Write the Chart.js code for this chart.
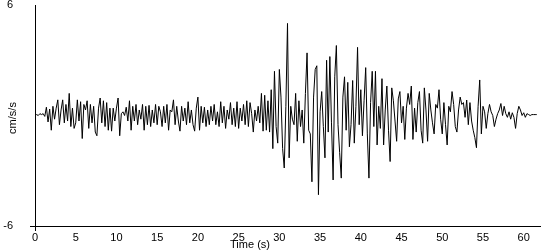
<!DOCTYPE html>
<html>
<head>
<meta charset="utf-8">
<script src="https://cdn.jsdelivr.net/npm/chart.js@4"></script>
<style>
  body { margin: 0; background: #fff; }
  #wrap { width: 550px; height: 250px; }
</style>
</head>
<body>
<div id="wrap"><canvas id="seismo" width="550" height="250"></canvas></div>
<script>
// ground acceleration (cm/s/s), every 0.2 s
const sampleStep = 0.2;
const accel = [
    0.0, 0.05, 0.0, 0.1, 0.05,
    0.1, -0.05, 0.45, -0.35, 0.35,
    -0.8, 0.5, -0.2, 0.4, 0.85,
    -0.5, 0.3, 0.85, -0.4, 0.6,
    -0.3, 1.2, -0.6, 0.4, -0.7,
    -0.4, 0.85, -0.3, 0.75, -1.25,
    0.6, 0.3, 0.8, -0.7, 0.6,
    -0.4, 0.5, -0.9, -1.1, 0.4,
    0.95, -0.4, 0.8, -0.6, 0.7,
    -0.8, 0.4, -0.85, 0.4, -0.3,
    0.4, 0.95, -1.1, 0.1, 0.2,
    0.0, 0.45, -0.3, 0.8, -0.8,
    0.5, -0.3, 0.6, -0.5, 0.3,
    -0.2, 0.6, -0.8, 0.5, -0.5,
    0.55, -0.6, 0.3, -0.4, 0.6,
    -0.5, 0.5, 0.2, -0.6, 0.5,
    -0.4, 0.6, -0.8, 0.3, 0.2,
    0.85, -0.5, 0.5, -0.3, -0.85,
    0.5, -0.3, 0.4, -0.5, 0.75,
    -0.4, 0.3, -0.5, -0.85, 0.4,
    1.0, -0.8, 0.5, -0.4, 0.45,
    -0.6, 0.3, -0.5, 0.5, -0.3,
    0.6, -0.5, 0.2, -0.6, 0.75,
    -0.4, 0.5, -0.7, 0.3, -0.2,
    0.7, -0.5, 0.4, -0.6, 0.75,
    -0.7, 0.4, -0.3, 0.6, -0.5,
    0.8, -0.6, 0.7, 0.1, -0.9,
    0.3, -0.3, 0.5, -0.4, 1.2,
    -0.85, 1.1, -0.8, 0.8, -0.9,
    1.4, -1.8, 2.4, -0.6, -1.5,
    2.5, 1.0, -1.8, -2.85, 0.5,
    5.0, -2.3, 0.5, -0.2, -0.5,
    1.2, -1.4, 0.8, -0.6, 0.3,
    -1.5, 1.2, 3.4, -0.8, -1.0,
    -3.6, 1.0, 2.5, 2.7, -4.3,
    0.2, 1.3, -0.6, -2.3, 3.0,
    -0.9, 3.2, -0.4, -3.5, 2.1,
    3.8, -0.5, -2.0, -3.4, 1.0,
    2.1, -0.8, 1.8, -1.7, -0.5,
    1.9, -1.5, 0.5, 3.7, -0.5,
    1.4, -1.1, 0.8, 2.6, -1.0,
    -3.4, 0.7, 2.4, -0.6, 2.4,
    -1.6, 0.5, -0.7, 2.0, -1.6,
    0.3, 1.6, -0.8, -2.5, 1.5,
    0.8, -0.3, -1.4, 0.9, 1.3,
    -0.4, 0.5, -1.3, 0.4, 1.2,
    0.6, 1.6, -1.3, 0.4, -0.9,
    0.7, 1.3, -0.8, -1.5, 1.5,
    0.3, -1.4, 1.2, 0.3, -0.4,
    -1.0, 0.6, 0.4, 1.4, -0.2,
    -1.0, 0.7, -0.5, -1.6, 0.5,
    0.2, 1.3, 0.6, -0.6, -0.9,
    0.3, 1.0, 0.6, 0.7, -0.1,
    0.84, -0.5, 0.7, -0.3, -0.8,
    -1.2, -1.75, 0.5, 1.93, -1.0,
    0.5, 0.2, -0.7, 0.1, 0.6,
    0.2, 0.0, -0.6, -0.2, 0.1,
    0.3, 0.65, 0.0, 0.5, 0.1,
    -0.1, 0.2, -0.2, 0.15, -0.1,
    -0.7, 0.1, 0.5, 0.3, 0.0,
    0.15, -0.1, 0.1, 0.05, 0.0,
    0.05, 0.05, 0.05, 0.05
];

const xTicks = [0, 5, 10, 15, 20, 25, 30, 35, 40, 45, 50, 55, 60];
const yTicks = [-6, 6];
const xTitle = "Time (s)";
const yTitle = "cm/s/s";

const points = accel.map((v, i) => ({ x: Math.round(i * sampleStep * 10) / 10, y: v }));

const labelFont = { family: '"Liberation Sans", Arial, sans-serif', size: 11 };

// axis titles sit in odd places in the original, so they are drawn by hand
const axisTitles = {
    id: 'axisTitles',
    afterDraw(chart) {
        const ctx = chart.ctx;
        ctx.save();
        ctx.fillStyle = '#000';
        ctx.font = '11px "Liberation Sans", Arial, sans-serif';
        ctx.textAlign = 'center';
        ctx.textBaseline = 'middle';
        ctx.fillText(xTitle, 250, 245);
        ctx.translate(13, 118);
        ctx.rotate(-Math.PI / 2);
        ctx.fillText(yTitle, 0, 0);
        ctx.restore();
    }
};

new Chart(document.getElementById("seismo").getContext("2d"), {
    type: 'line',
    data: {
        datasets: [{
            data: points,
            borderColor: '#000',
            borderWidth: 1,
            pointRadius: 0,
            tension: 0,
            fill: false
        }]
    },
    options: {
        responsive: false,
        animation: false,
        layout: { padding: { top: 5, right: 10, bottom: 0, left: 0 } },
        plugins: { legend: { display: false }, tooltip: { enabled: false } },
        scales: {
            x: {
                type: 'linear',
                min: 0,
                max: 62,
                afterBuildTicks: s => { s.ticks = xTicks.map(v => ({ value: v })); },
                afterFit: s => { s.height = 24; s.paddingLeft = 0; s.paddingRight = 0; },
                grid: {
                    drawOnChartArea: false,
                    tickLength: 5,
                    tickColor: c => (c.tick && c.tick.value === 0) ? '#000' : 'rgba(0,0,0,0)'
                },
                border: { display: true, color: '#000', width: 1 },
                ticks: { color: '#000', font: labelFont, padding: 0, maxRotation: 0, autoSkip: false }
            },
            y: {
                min: -6,
                max: 6,
                afterBuildTicks: s => { s.ticks = yTicks.map(v => ({ value: v })); },
                afterFit: s => { s.width = 35; s.paddingTop = 0; s.paddingBottom = 0; },
                grid: {
                    drawOnChartArea: false,
                    tickLength: 5,
                    tickColor: c => (c.tick && c.tick.value === -6) ? '#000' : 'rgba(0,0,0,0)'
                },
                border: { display: true, color: '#000', width: 1 },
                ticks: { color: '#000', font: labelFont, padding: 17 }
            }
        }
    },
    plugins: [axisTitles]
});
</script>
</body>
</html>
